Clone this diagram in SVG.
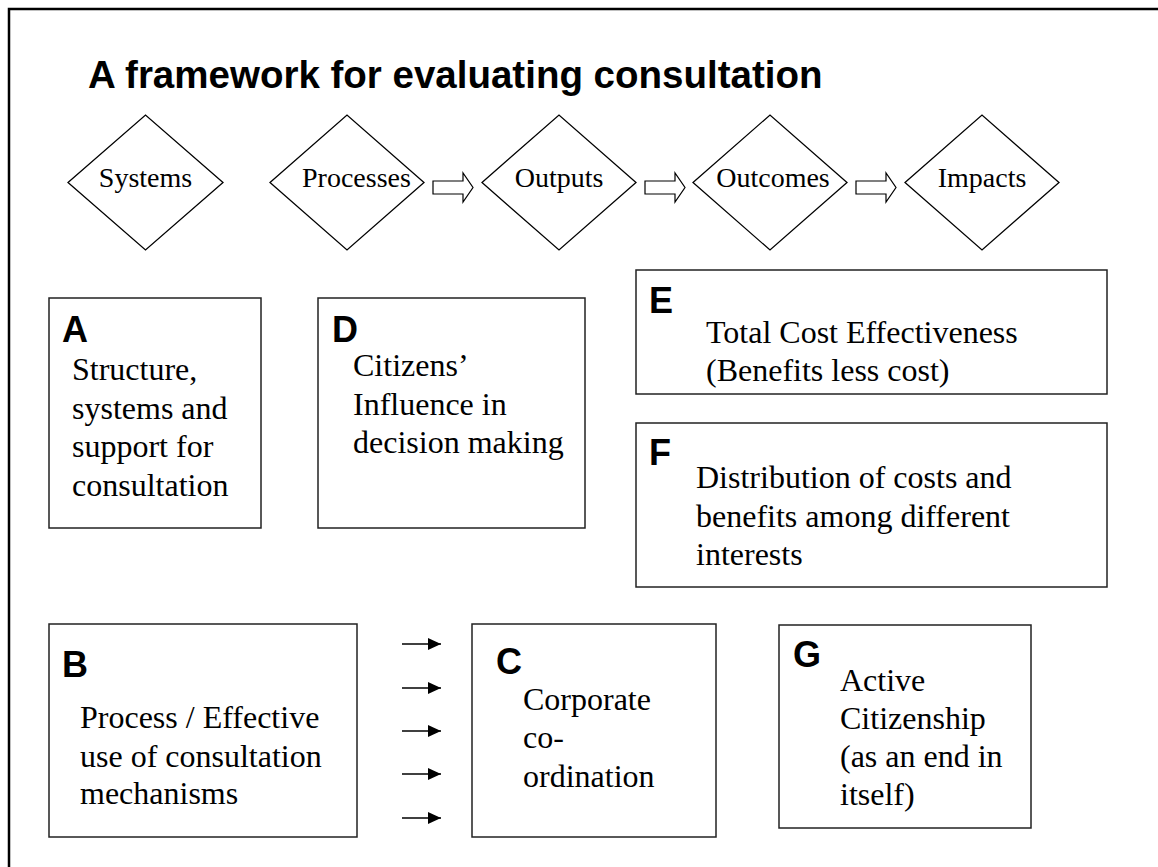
<svg xmlns="http://www.w3.org/2000/svg" width="1158" height="867" viewBox="0 0 1158 867">
<defs>
<style>
.frame{fill:none;stroke:#000;stroke-width:2.5}
.box{fill:#fff;stroke:#222;stroke-width:1.5}
.dia{fill:#fff;stroke:#000;stroke-width:1.3}
.harrow{fill:#fff;stroke:#000;stroke-width:1.2}
.title{font-family:"Liberation Sans",Arial,sans-serif;font-weight:bold;font-size:38.5px;fill:#000}
.lbl{font-family:"Liberation Sans",Arial,sans-serif;font-weight:bold;font-size:36px;fill:#000}
.dt{font-family:"Liberation Serif","Times New Roman",serif;font-size:28px;fill:#000}
.bt{font-family:"Liberation Serif","Times New Roman",serif;font-size:32px;fill:#000}
.conn{stroke:#000;stroke-width:1.6;fill:none}
</style>
<marker id="ah" markerWidth="13" markerHeight="12" refX="13" refY="6" orient="auto" markerUnits="userSpaceOnUse">
<path d="M0,0 L13,6 L0,12 Z" fill="#000"/>
</marker>
</defs>
<rect x="0" y="0" width="1158" height="867" fill="#fff"/>
<rect class="frame" x="9" y="9" width="1300" height="1000"/>
<text class="title" x="88" y="88">A framework for evaluating consultation</text>

<g id="systems">
<polygon class="dia" points="68,182.5 145.5,115 223,182.5 145.5,250"/>
<text class="dt" x="145.5" y="187" text-anchor="middle">Systems</text>
</g>
<g id="processes">
<polygon class="dia" points="270,182.5 347,115 424,182.5 347,250"/>
<text class="dt" x="302" y="187">Processes</text>
</g>
<g id="outputs">
<polygon class="dia" points="482,182.5 559,115 636,182.5 559,250"/>
<text class="dt" x="559" y="187" text-anchor="middle">Outputs</text>
</g>
<g id="outcomes">
<polygon class="dia" points="693,182.5 770,115 847,182.5 770,250"/>
<text class="dt" x="773" y="187" text-anchor="middle">Outcomes</text>
</g>
<g id="impacts">
<polygon class="dia" points="905,182.5 982,115 1059,182.5 982,250"/>
<text class="dt" x="982" y="187" text-anchor="middle">Impacts</text>
</g>

<g id="boxA">
<rect class="box" x="49" y="298" width="212" height="230"/>
<text class="lbl" x="62" y="342">A</text>
<text class="bt" x="72" y="380">Structure,</text>
<text class="bt" x="72" y="419">systems and</text>
<text class="bt" x="72" y="457">support for</text>
<text class="bt" x="72" y="496">consultation</text>
</g>
<g id="boxD">
<rect class="box" x="318" y="298" width="267" height="230"/>
<text class="lbl" x="332" y="342">D</text>
<text class="bt" x="353" y="376">Citizens’</text>
<text class="bt" x="353" y="415">Influence in</text>
<text class="bt" x="353" y="453">decision making</text>
</g>
<g id="boxE">
<rect class="box" x="636" y="270" width="471" height="124"/>
<text class="lbl" x="649" y="313">E</text>
<text class="bt" x="706" y="343">Total Cost Effectiveness</text>
<text class="bt" x="706" y="381">(Benefits less cost)</text>
</g>
<g id="boxF">
<rect class="box" x="636" y="423" width="471" height="164"/>
<text class="lbl" x="649" y="465">F</text>
<text class="bt" x="696" y="488">Distribution of costs and</text>
<text class="bt" x="696" y="527">benefits among different</text>
<text class="bt" x="696" y="565">interests</text>
</g>
<g id="boxB">
<rect class="box" x="49" y="624" width="308" height="213"/>
<text class="lbl" x="62" y="677">B</text>
<text class="bt" x="80" y="728">Process / Effective</text>
<text class="bt" x="80" y="767">use of consultation</text>
<text class="bt" x="80" y="804">mechanisms</text>
</g>
<g id="boxC">
<rect class="box" x="472" y="624" width="244" height="213"/>
<text class="lbl" x="496" y="674">C</text>
<text class="bt" x="523" y="710">Corporate</text>
<text class="bt" x="523" y="748">co-</text>
<text class="bt" x="523" y="787">ordination</text>
</g>
<g id="boxG">
<rect class="box" x="779" y="625" width="252" height="203"/>
<text class="lbl" x="793" y="667">G</text>
<text class="bt" x="840" y="691">Active</text>
<text class="bt" x="840" y="729">Citizenship</text>
<text class="bt" x="840" y="767">(as an end in</text>
<text class="bt" x="840" y="805">itself)</text>
</g>

<g id="connectors">
<polygon class="harrow" points="433,181 463,181 463,173 473,187.5 463,202 463,194 433,194"/>
<polygon class="harrow" points="645,181 675,181 675,173 685,187.5 675,202 675,194 645,194"/>
<polygon class="harrow" points="856,181 886,181 886,173 896,187.5 886,202 886,194 856,194"/>
<line class="conn" x1="402" y1="644" x2="441" y2="644" marker-end="url(#ah)"/>
<line class="conn" x1="402" y1="688" x2="441" y2="688" marker-end="url(#ah)"/>
<line class="conn" x1="402" y1="731" x2="441" y2="731" marker-end="url(#ah)"/>
<line class="conn" x1="402" y1="774" x2="441" y2="774" marker-end="url(#ah)"/>
<line class="conn" x1="402" y1="818" x2="441" y2="818" marker-end="url(#ah)"/>
</g>
</svg>
